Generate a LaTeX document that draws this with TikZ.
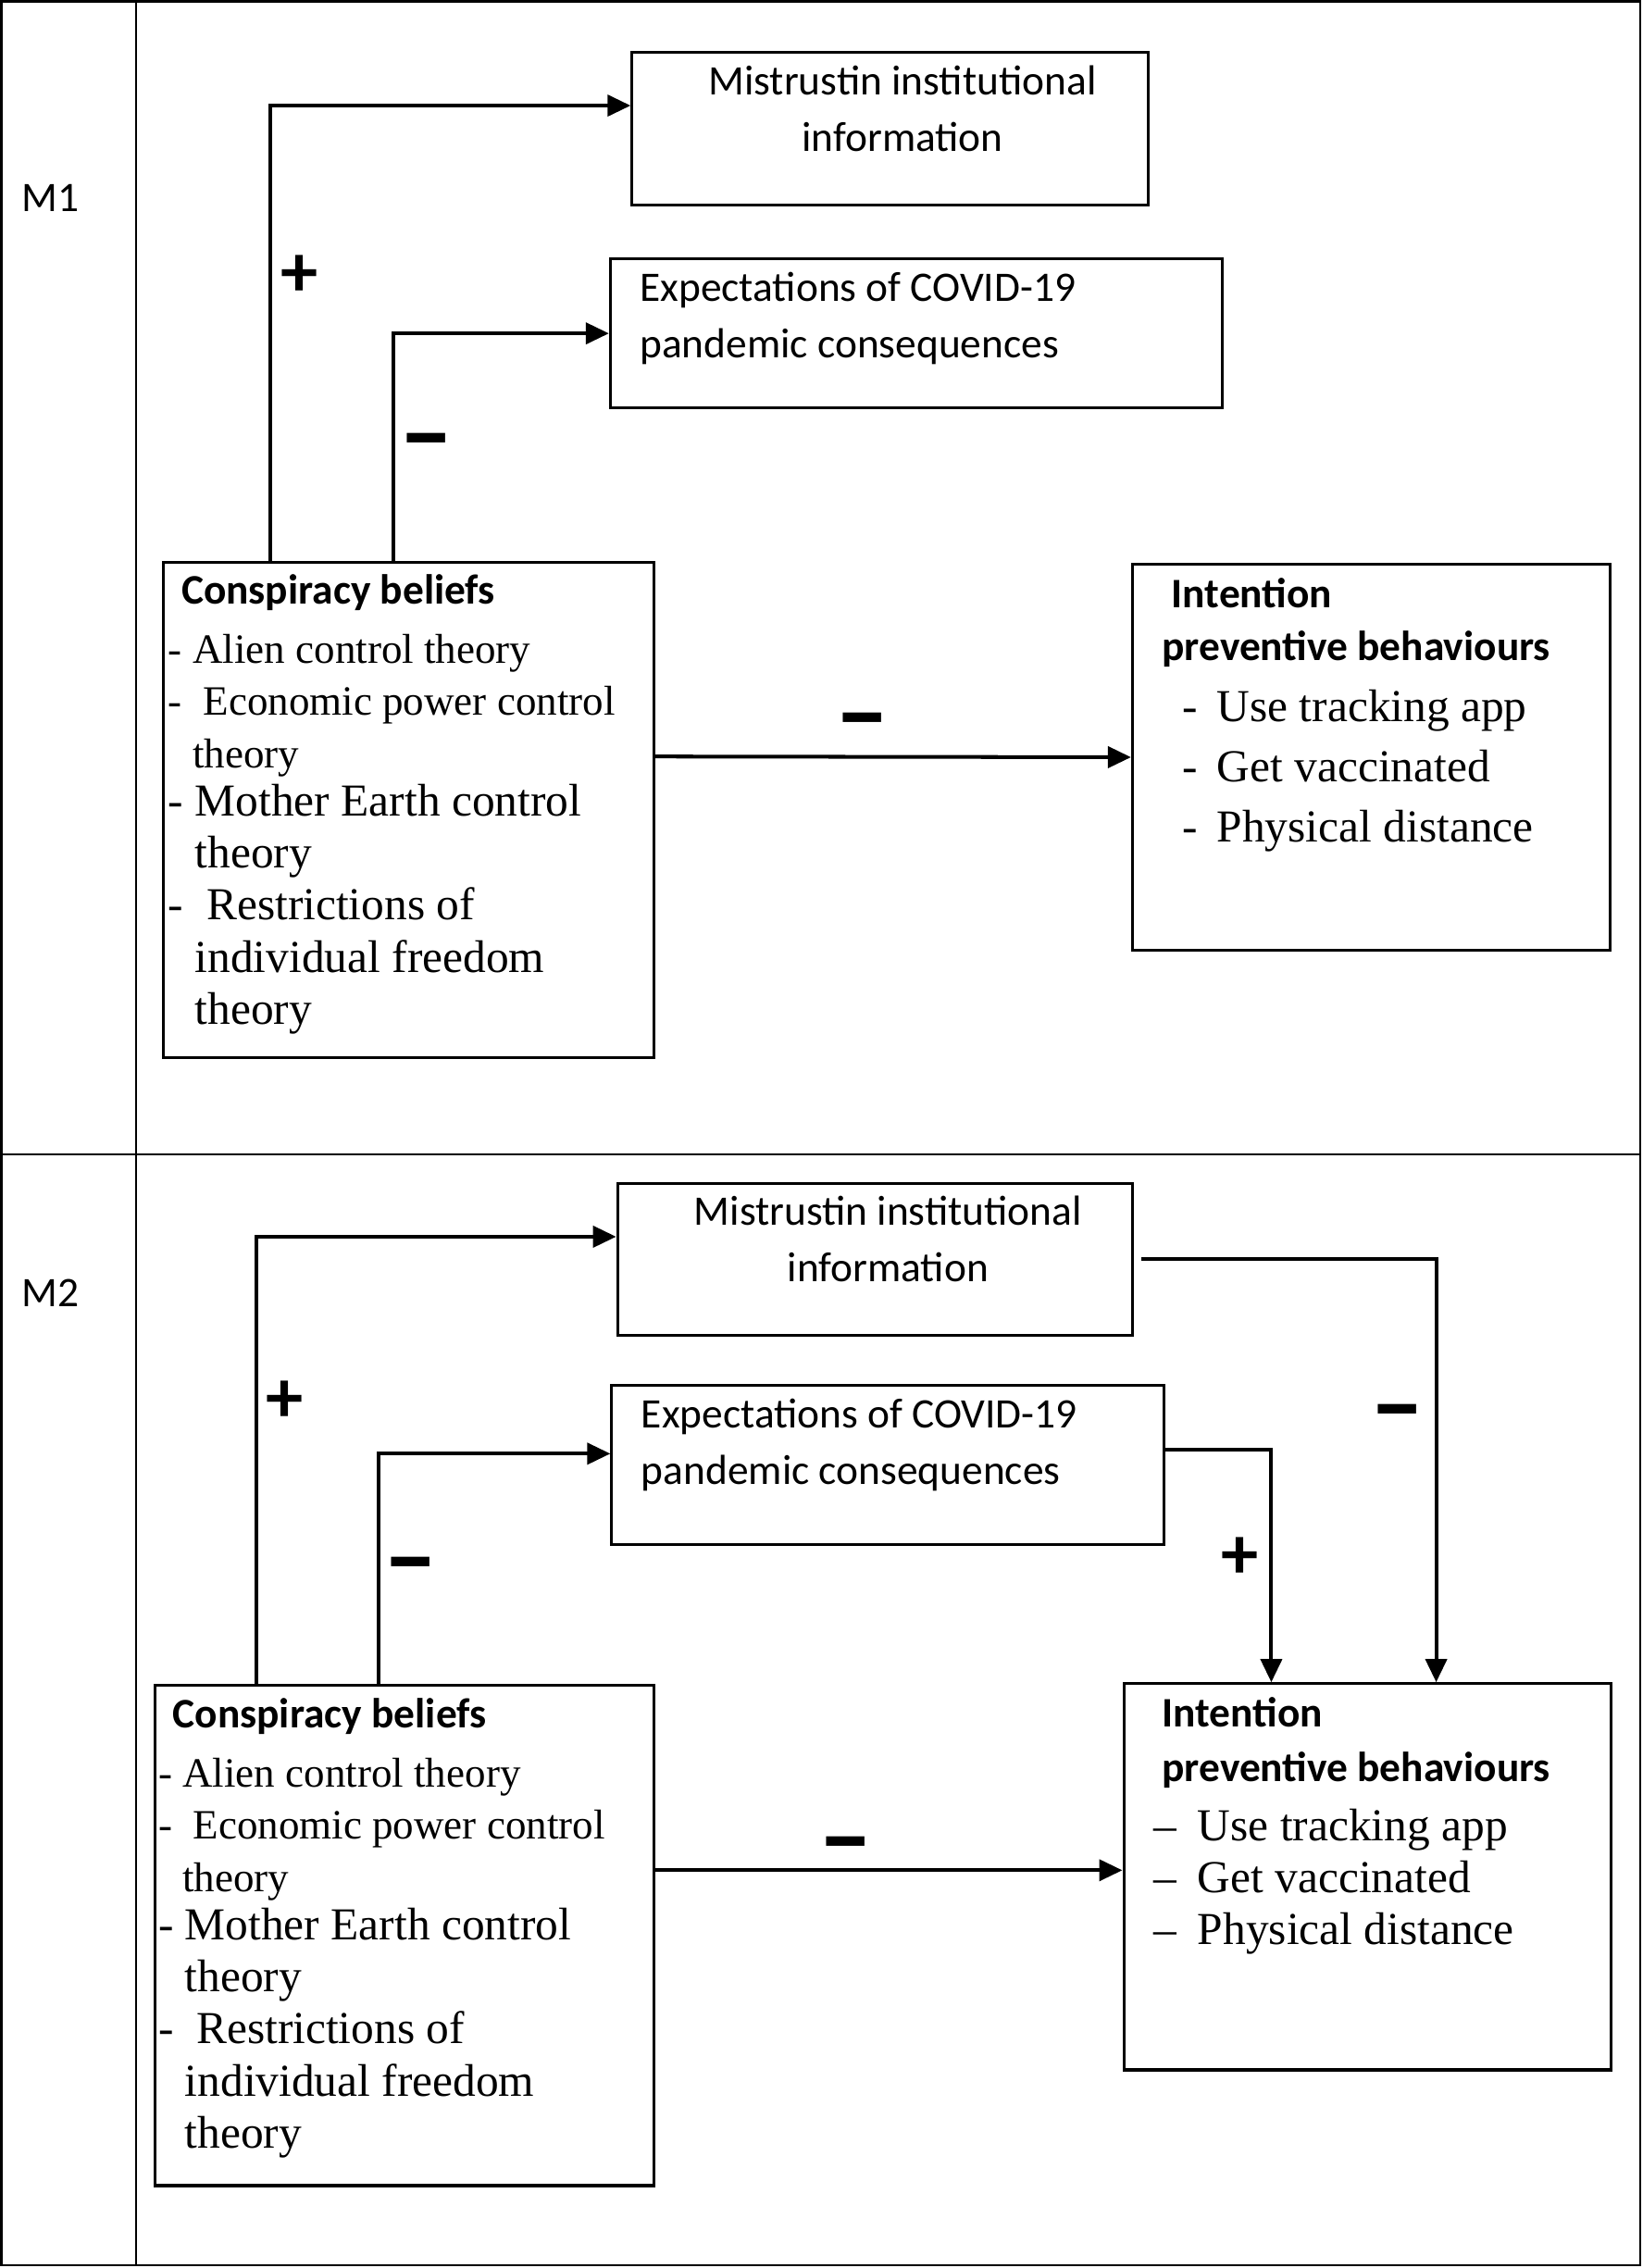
\documentclass[tikz,border=0pt]{standalone}
\usepackage{fontspec}
\setmainfont{Liberation Serif}
\setsansfont{Carlito}
\usetikzlibrary{arrows.meta}
\newcommand{\dashitem}[2]{\makebox[#1][l]{#2}}
\newcommand{\szsmall}{\fontsize{12.3}{15.4}\selectfont}
\newcommand{\szbig}{\fontsize{13.5}{15.4}\selectfont}

\begin{document}
\begin{tikzpicture}[
  x=0.015cm, y=-0.015cm,
  box/.style ={draw, line width=0.85pt, anchor=north west, inner sep=0pt},
  hdr/.style ={font=\sffamily\fontsize{12.4}{16.6}\selectfont, inner sep=0pt},
  ttl/.style ={font=\sffamily\bfseries\fontsize{12.4}{15.8}\selectfont, inner sep=0pt, anchor=north west, align=left},
  lst/.style ={font=\rmfamily\szsmall, inner sep=0pt, anchor=north west, align=left},
  plus/.style ={font=\sffamily\bfseries\fontsize{22}{22}\selectfont, inner sep=0pt},
  neg/.style ={font=\sffamily\bfseries\fontsize{32}{32}\selectfont, inner sep=0pt},
  arr/.style ={line width=1.1pt, -{Triangle[length=0.24cm,width=0.22cm]}}]
  \useasboundingbox (0,0) rectangle (1136,1568);
  % table frame
  \draw[line width=0.6pt] (1,1) rectangle (1134,1566);
  \draw[line width=0.6pt] (1,798) -- (1134,798);
  \draw[line width=0.6pt] (94,1) -- (94,1566);
  \node[hdr] (m1) at (35,137) {M1};
  \node[hdr] (m2) at (35,894) {M2};

  % M1
  \node[box, minimum width=5.355cm, minimum height=1.59cm] (mis1) at (436,35) {};
  \node[box, minimum width=6.345cm, minimum height=1.545cm] (exp1) at (421,178) {};
  \node[box, minimum width=5.085cm, minimum height=5.13cm] (con1) at (112,388) {};
  \node[box, minimum width=4.95cm, minimum height=4.005cm] (int1) at (782,389) {};
  \node[hdr, align=center] (mis1t) at (624,75) {Mistrustin institutional\\information};
  \node[hdr, anchor=north west, align=left] (exp1t) at (442,188) {Expectations of COVID-19\\pandemic consequences};
  \node[ttl] (con1h) at (125,397) {Conspiracy beliefs};
  \node[lst] (con1l) at (116,438) {\szsmall- Alien control theory\\\szsmall-\ \ Economic power control\\\szsmall\phantom{-}\ theory\\[-1.2pt]\szbig- Mother Earth control\\\szbig\phantom{-}\ theory\\\szbig-\ \ Restrictions of\\\szbig\phantom{-}\ individual freedom\\\szbig\phantom{-}\ theory};
  \node[ttl] (int1h) at (803,399) {\ Intention\\preventive behaviours};
  \node[lst, font=\rmfamily\fontsize{13.5}{17.8}\selectfont] (int1l) at (817,476.5) {\dashitem{0.36cm}{-}Use tracking app\\\dashitem{0.36cm}{-}Get vaccinated\\\dashitem{0.36cm}{-}Physical distance};
  \draw[arr] ([xshift=1.125cm]con1.north west) |- ([yshift=0.24cm]mis1.west);
  \draw[arr] ([xshift=2.4cm]con1.north west) |- (exp1.west);
  \draw[arr] ([yshift=0.555cm]con1.east) -- (int1.west);
  \node[plus] (p1a) at (207,191) {+};
  \node[neg] (n1a) at (295,312) {–};
  \node[neg] (n1b) at (596,505) {–};

  % M2
  \node[box, minimum width=5.34cm, minimum height=1.575cm] (mis2) at (426,817) {};
  \node[box, minimum width=5.73cm, minimum height=1.65cm] (exp2) at (422,957) {};
  \node[box, minimum width=5.175cm, minimum height=5.19cm] (con2) at (106,1164) {};
  \node[box, minimum width=5.055cm, minimum height=4.005cm] (int2) at (776,1163) {};
  \node[hdr, align=center] (mis2t) at (614,856.5) {Mistrustin institutional\\information};
  \node[hdr, anchor=north west, align=left] (exp2t) at (443,966.5) {Expectations of COVID-19\\pandemic consequences};
  \node[ttl] (con2h) at (119,1174) {Conspiracy beliefs};
  \node[lst] (con2l) at (109,1215) {\szsmall- Alien control theory\\\szsmall-\ \ Economic power control\\\szsmall\phantom{-}\ theory\\[-1.2pt]\szbig- Mother Earth control\\\szbig\phantom{-}\ theory\\\szbig-\ \ Restrictions of\\\szbig\phantom{-}\ individual freedom\\\szbig\phantom{-}\ theory};
  \node[ttl, font=\sffamily\bfseries\fontsize{12.4}{16.2}\selectfont] (int2h) at (803,1173) {Intention\\preventive behaviours};
  \node[lst, font=\rmfamily\szbig] (int2l) at (797,1250) {\dashitem{0.46cm}{–}Use tracking app\\\dashitem{0.46cm}{–}Get vaccinated\\\dashitem{0.46cm}{–}Physical distance};
  \draw[arr] ([xshift=1.065cm]con2.north west) |- ([yshift=0.2325cm]mis2.west);
  \draw[arr] ([xshift=2.34cm]con2.north west) |- ([yshift=0.12cm]exp2.west);
  \draw[arr] ([yshift=0.675cm]con2.east) -- ([yshift=0.675cm]con2.east -| int2.west);
  \draw[arr] ([xshift=0.075cm]mis2.east) -| ([xshift=3.255cm]int2.north west);
  \draw[arr] ([yshift=0.165cm]exp2.east) -| ([xshift=1.545cm]int2.north west);
  \node[plus] (p2a) at (197,969) {+};
  \node[neg] (n2a) at (284,1089) {–};
  \node[neg] (n2b) at (585,1282) {–};
  \node[neg] (n2c) at (966,983) {–};
  \node[plus] (p2b) at (857,1077) {+};
\end{tikzpicture}
\end{document}
